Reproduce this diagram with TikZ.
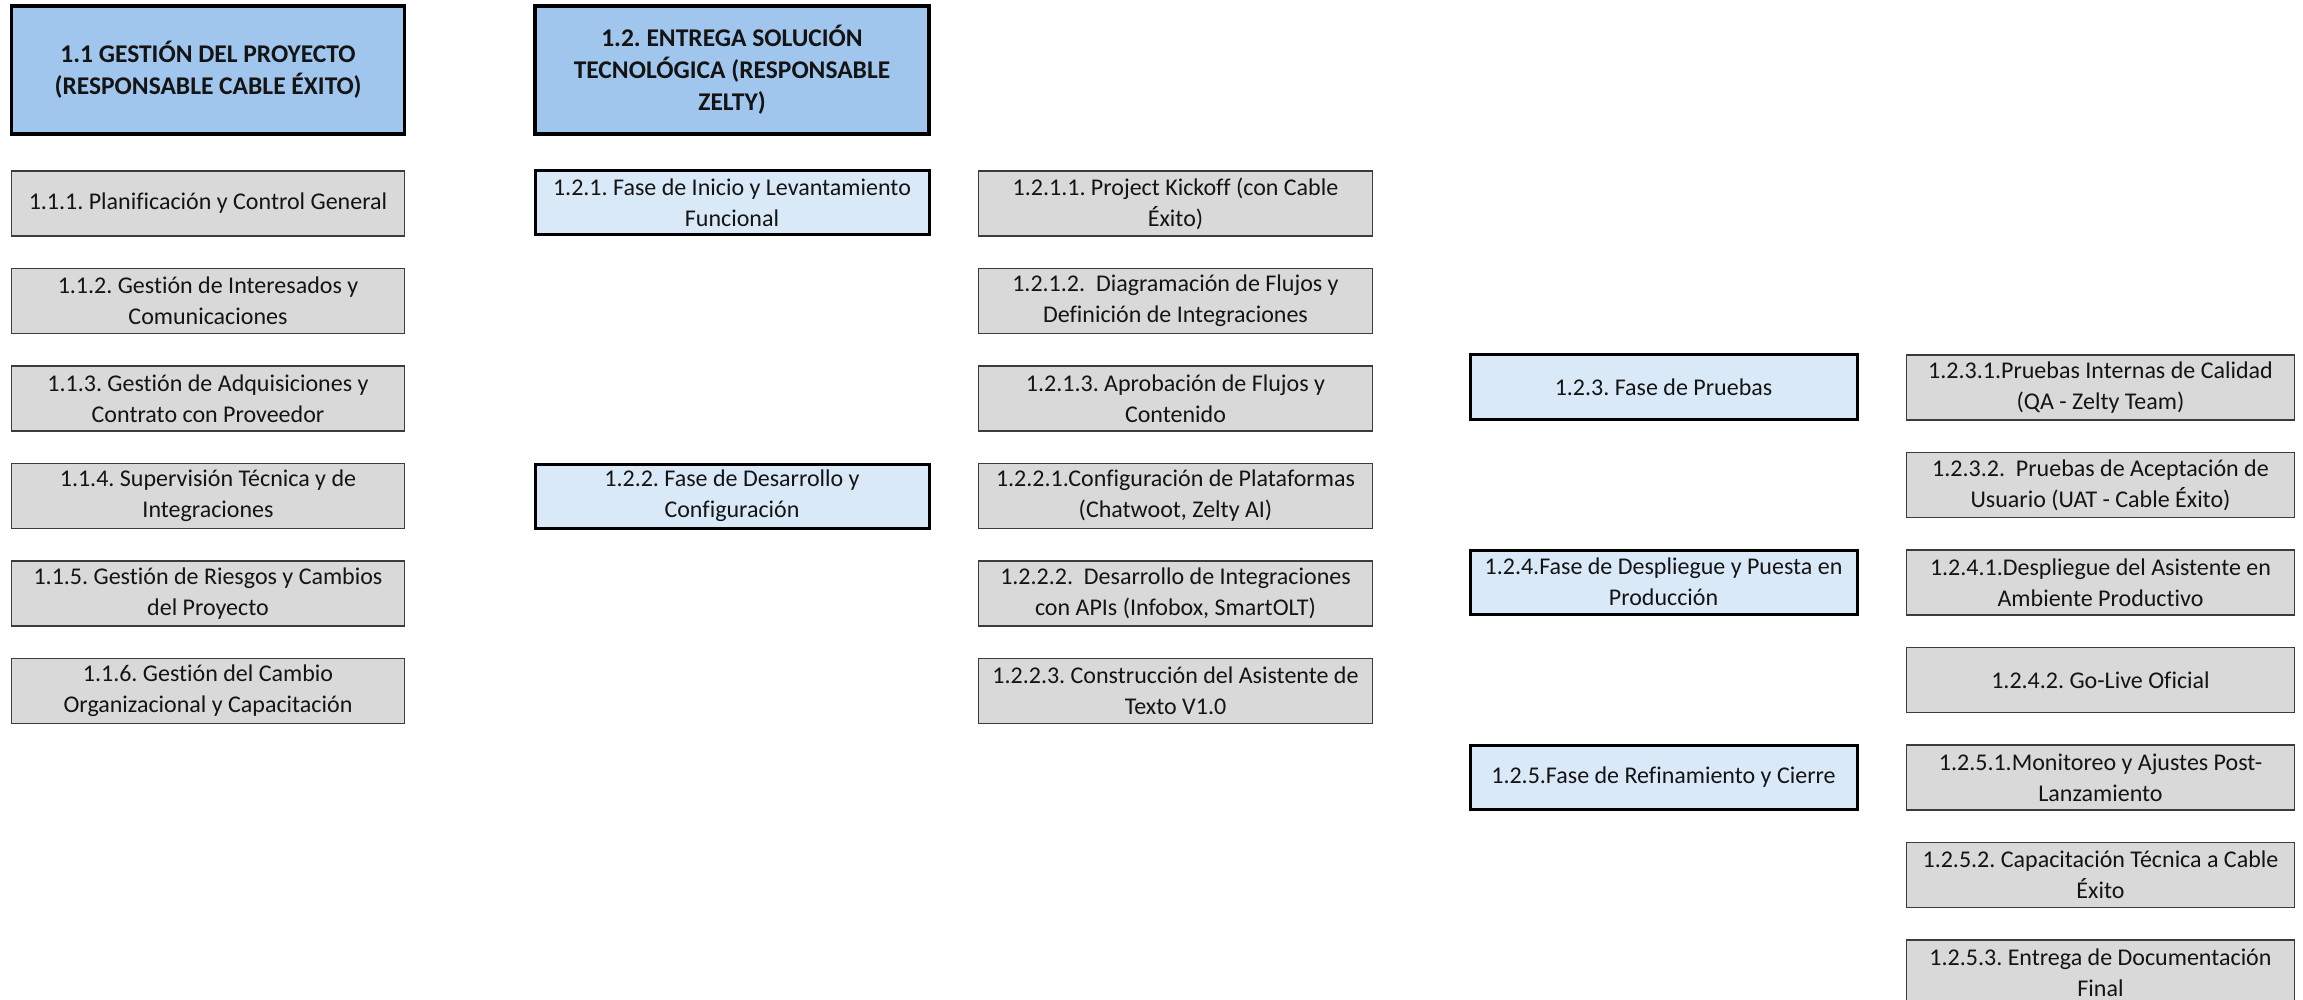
\documentclass[tikz,border=0pt]{standalone}
\usepackage{fontspec}
\setmainfont{Carlito}[Ligatures={NoCommon}]
\definecolor{topblue}{RGB}{161,198,238}
\definecolor{phaseblue}{RGB}{218,233,248}
\definecolor{taskgray}{RGB}{217,217,217}
\definecolor{bordergray}{RGB}{60,60,60}
\definecolor{txt}{RGB}{20,20,20}
\frenchspacing
\begin{document}
\begin{tikzpicture}[x=1pt,y=-1pt,
  box/.style={rectangle, align=center, inner sep=0pt, text=txt,
    font=\fontsize{24}{31}\selectfont\frenchspacing},
  topbox/.style={box, fill=topblue, draw=black, line width=3.2pt,
    minimum height=128pt, font=\fontsize{25.5}{32}\selectfont\bfseries\frenchspacing},
  phasebox/.style={box, fill=phaseblue, draw=black, line width=3pt, minimum height=64pt},
  taskbox/.style={box, fill=taskgray, draw=bordergray, line width=1.3pt, minimum height=65pt},
  wA/.style={minimum width=393pt},
  wB/.style={minimum width=394pt},
  wC/.style={minimum width=394pt},
  wD/.style={minimum width=387pt},
  wE/.style={minimum width=388pt}]
\fill[white] (0,0) rectangle (2303,1000);
\useasboundingbox (0,0) rectangle (2303,1000);

% column 1
\node[topbox, wA] (n11) at (208,70) {1.1 GESTIÓN DEL PROYECTO\\(RESPONSABLE CABLE ÉXITO)};
\node[taskbox, wA] (n111) at (208,203.5) {1.1.1. Planificación y Control General};
\node[taskbox, wA] (n112) at (208,301) {1.1.2. Gestión de Interesados y\\Comunicaciones};
\node[taskbox, wA] (n113) at (208,398.5) {1.1.3. Gestión de Adquisiciones y\\Contrato con Proveedor};
\node[taskbox, wA] (n114) at (208,496) {1.1.4. Supervisión Técnica y de\\Integraciones};
\node[taskbox, wA] (n115) at (208,593.5) {1.1.5. Gestión de Riesgos y Cambios\\del Proyecto};
\node[taskbox, wA] (n116) at (208,691) {1.1.6. Gestión del Cambio\\Organizacional y Capacitación};

% column 2
\node[topbox, wB] (n12) at (732,70) {1.2. ENTREGA SOLUCIÓN\\TECNOLÓGICA (RESPONSABLE\\ZELTY)};
\node[phasebox, wB] (n121) at (732,203) {1.2.1. Fase de Inicio y Levantamiento\\Funcional};
\node[phasebox, wB] (n122) at (732,496) {1.2.2. Fase de Desarrollo y\\Configuración};

% column 3
\node[taskbox, wC] (n1211) at (1175.5,203.5) {1.2.1.1. Project Kickoff (con Cable\\Éxito)};
\node[taskbox, wC] (n1212) at (1175.5,301) {1.2.1.2.~ Diagramación de Flujos y\\Definición de Integraciones};
\node[taskbox, wC] (n1213) at (1175.5,398.5) {1.2.1.3. Aprobación de Flujos y\\Contenido};
\node[taskbox, wC] (n1221) at (1175.5,496) {1.2.2.1.Configuración de Plataformas\\(Chatwoot, Zelty AI)};
\node[taskbox, wC] (n1222) at (1175.5,593.5) {1.2.2.2.~ Desarrollo de Integraciones\\con APIs (Infobox, SmartOLT)};
\node[taskbox, wC] (n1223) at (1175.5,691) {1.2.2.3. Construcción del Asistente de\\Texto V1.0};

% column 4
\node[phasebox, wD] (n123) at (1663.5,387) {1.2.3. Fase de Pruebas};
\node[phasebox, wD] (n124) at (1663.5,582) {1.2.4.Fase de Despliegue y Puesta en\\Producción};
\node[phasebox, wD] (n125) at (1663.5,777) {1.2.5.Fase de Refinamiento y Cierre};

% column 5
\node[taskbox, wE] (n1231) at (2100.5,387.5) {1.2.3.1.Pruebas Internas de Calidad\\(QA - Zelty Team)};
\node[taskbox, wE] (n1232) at (2100.5,485) {1.2.3.2.~ Pruebas de Aceptación de\\Usuario (UAT - Cable Éxito)};
\node[taskbox, wE] (n1241) at (2100.5,582.5) {1.2.4.1.Despliegue del Asistente en\\Ambiente Productivo};
\node[taskbox, wE] (n1242) at (2100.5,680) {1.2.4.2. Go-Live Oficial};
\node[taskbox, wE] (n1251) at (2100.5,777.5) {1.2.5.1.Monitoreo y Ajustes Post-\\Lanzamiento};
\node[taskbox, wE] (n1252) at (2100.5,875) {1.2.5.2. Capacitación Técnica a Cable\\Éxito};
\node[taskbox, wE] (n1253) at (2100.5,972.5) {1.2.5.3. Entrega de Documentación\\Final};
\end{tikzpicture}
\end{document}
